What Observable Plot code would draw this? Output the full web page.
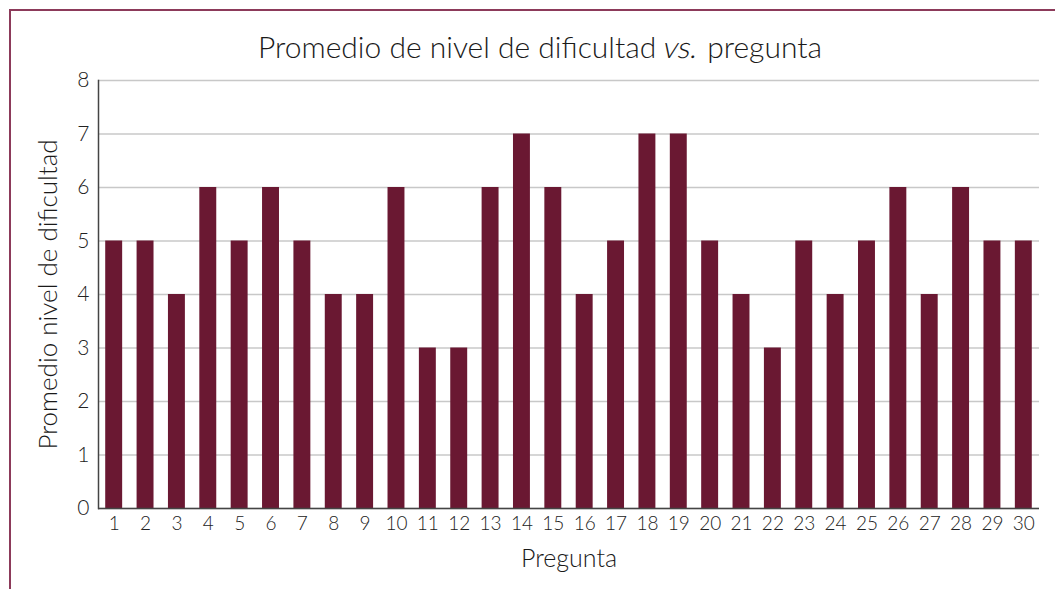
<!DOCTYPE html>
<html>
<head>
<meta charset="utf-8">
<script src="https://cdn.jsdelivr.net/npm/d3@7"></script>
<script src="https://cdn.jsdelivr.net/npm/@observablehq/plot@0.6"></script>
<style>
  html, body { margin: 0; padding: 0; background: #fff; }
  #wrap { position: relative; width: 1055px; height: 589px; overflow: hidden; font-family: Lato, "Noto Sans", sans-serif; font-weight: 300; }
  #frame { position: absolute; left: 9px; top: 9px; width: 1100px; height: 700px; border-top: 2px solid #8c3a5a; border-left: 2px solid #8c3a5a; }
  #title { position: absolute; left: 0; width: 1080px; top: 28px; text-align: center; font-size: 30px; color: #1a1a1a; }
  #title span.it { display: inline-block; font-style: normal; font-weight: 300; transform: skewX(-12deg); }
  #chart { position: absolute; left: 0; top: 0; }
  #chart svg text { font-weight: 300; }
</style>
</head>
<body>
<div id="wrap">
  <div id="frame"></div>
  <div id="chart"></div>
  <div id="title">Promedio de nivel de dificultad <span class="it">vs.</span> pregunta</div>
</div>
<script>
const preguntas = [1,2,3,4,5,6,7,8,9,10,11,12,13,14,15,16,17,18,19,20,21,22,23,24,25,26,27,28,29,30];
const promedios = [5,5,4,6,5,6,5,4,4,6,3,3,6,7,6,4,5,7,7,5,4,3,5,4,5,6,4,6,5,5];
const yTicks = [0,1,2,3,4,5,6,7,8];
const titulo = "Promedio de nivel de dificultad vs. pregunta";
const yLabel = "Promedio nivel de dificultad";
const xLabel = "Pregunta";

const data = preguntas.map((p, i) => ({pregunta: p, valor: promedios[i]}));

const chart = Plot.plot({
  width: 1055,
  height: 589,
  marginLeft: 98,
  marginRight: 16,
  marginTop: 80,
  marginBottom: 81,
  style: {fontFamily: "Lato, 'Noto Sans', sans-serif", background: "transparent", color: "#222"},
  x: {domain: preguntas, paddingInner: 0.46, paddingOuter: 0.23, round: false, label: null},
  y: {domain: [0, 8], ticks: yTicks, label: null},
  marks: [
    Plot.gridY(yTicks, {stroke: "#c8c8c8", strokeOpacity: 1, strokeWidth: 1.5}),
    Plot.barY(data, {x: "pregunta", y: "valor", fill: "#6a1832"}),
    Plot.axisY(yTicks, {tickSize: 0, tickPadding: 9, fontSize: 21, fill: "#222", tickFormat: d3.format("d")}),
    Plot.axisX(preguntas, {tickSize: 0, tickPadding: 8, fontSize: 19, fill: "#222", label: null}),
    Plot.frame({anchor: "left", stroke: "#444", strokeWidth: 1.5}),
    Plot.ruleY([0], {stroke: "#444", strokeWidth: 1.5}),
    Plot.text([xLabel], {frameAnchor: "bottom", dy: 58, fontSize: 25, fill: "#1a1a1a"}),
    Plot.text([yLabel], {frameAnchor: "left", dx: -50, rotate: -90, textAnchor: "middle", fontSize: 26, fill: "#1a1a1a"})
  ]
});
document.getElementById("chart").appendChild(chart);
</script>
</body>
</html>
